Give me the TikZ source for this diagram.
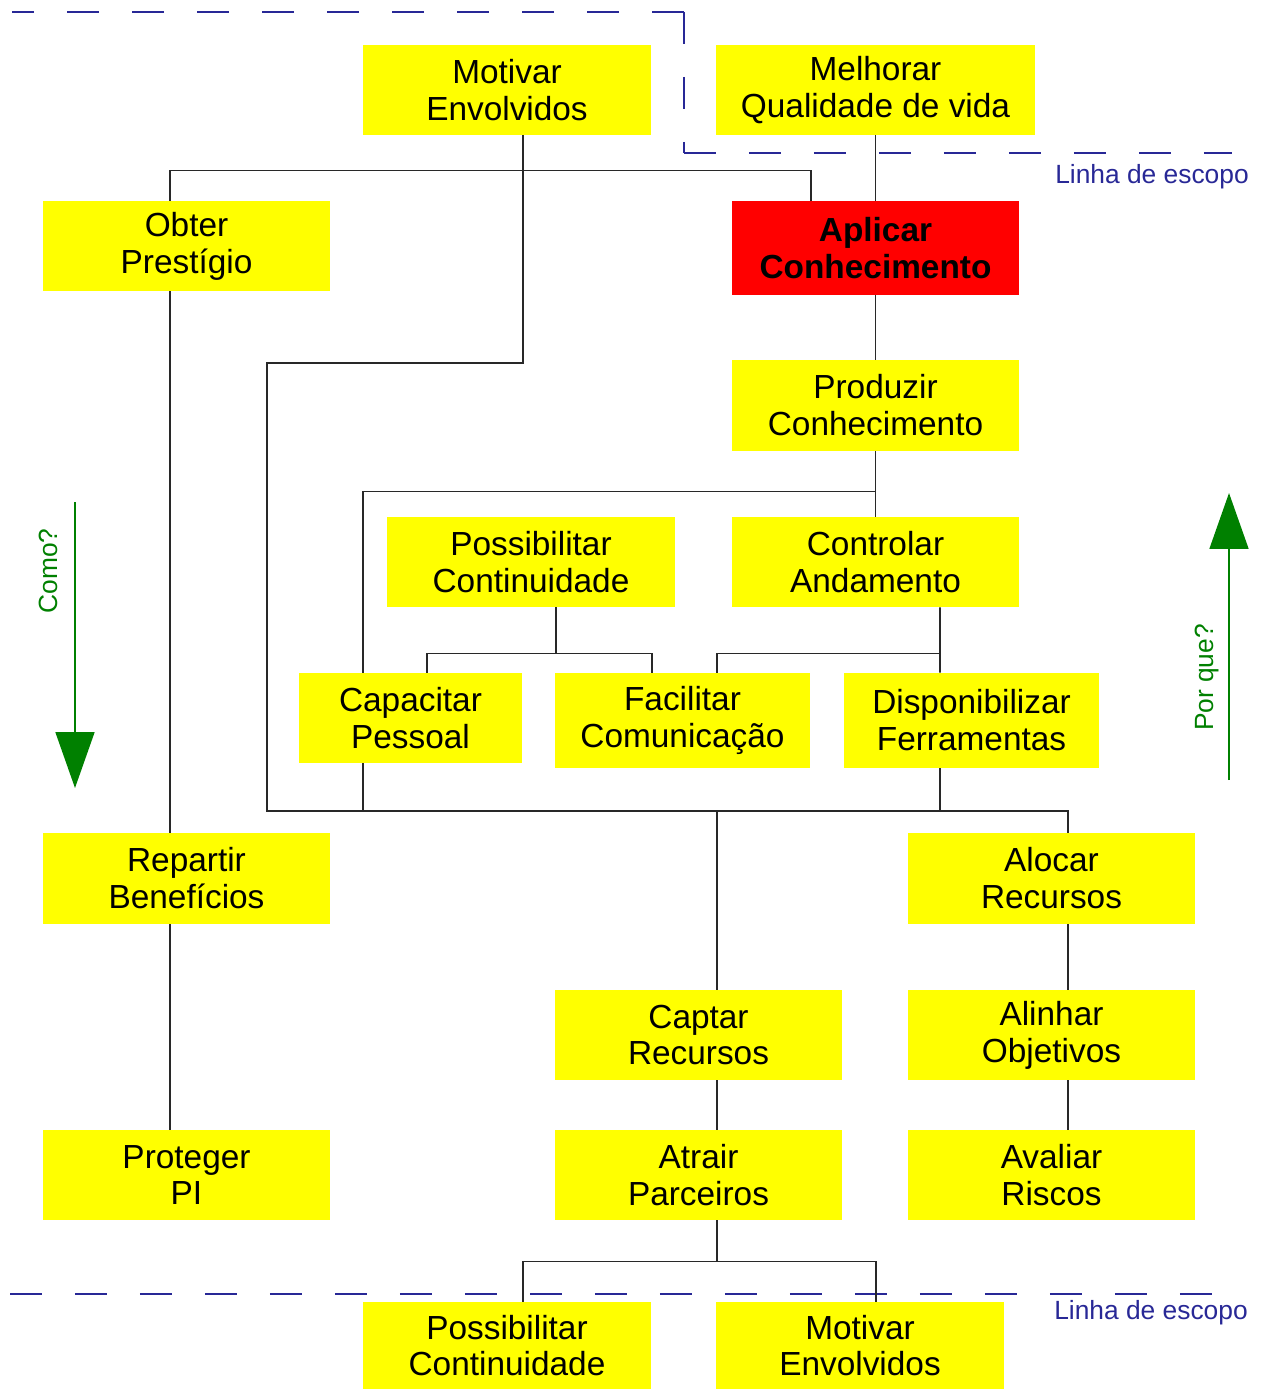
\documentclass[tikz,border=0pt]{standalone}
\usepackage{fontspec}
\setmainfont{Liberation Sans}
\usepackage{xcolor}
\usepackage{tikz}
\usetikzlibrary{arrows.meta}
\definecolor{clrFn}{RGB}{255,255,0}
\definecolor{clrKey}{RGB}{255,0,0}
\definecolor{clrScope}{RGB}{40,40,150}
\definecolor{clrGuide}{RGB}{0,128,0}
\definecolor{clrLink}{RGB}{40,40,40}
\tikzset{
  func/.style={rectangle,fill=clrFn,minimum width=5.74cm,minimum height=1.8cm,
    inner sep=0pt,align=center,font=\fontsize{19}{21}\selectfont},
  funcKey/.style={func,fill=clrKey,font=\fontsize{19}{21}\selectfont\bfseries},
  link/.style={draw=clrLink,line width=0.9pt},
  scopeline/.style={draw=clrScope,line width=1.1pt,dash pattern=on 0.64cm off 0.66cm},
  scopelabel/.style={font=\fontsize{15}{18}\selectfont,text=clrScope,inner sep=0pt},
  guide/.style={draw=clrGuide,line width=1pt,-{Triangle[length=1.12cm,width=0.78cm]},
    color=clrGuide},
  guidelabel/.style={font=\fontsize{15}{18}\selectfont,text=clrGuide,inner sep=0pt,rotate=90}
}
\begin{document}
\begin{tikzpicture}[x=0.02cm,y=-0.02cm]
  \useasboundingbox (0,0) rectangle (1267,1389);

  % scope lines
  \draw[scopeline] (684,12) -- (12,12);
  \draw[scopeline] (684,12) -- (684,153);
  \draw[scopeline] (684,153) -- (1232,153);
  \draw[scopeline] (10,1294) -- (1216,1294);
  \node[scopelabel] (escopoA) at (1152,177) {Linha de escopo};
  \node[scopelabel] (escopoB) at (1151,1313) {Linha de escopo};

  \node[func,minimum width=5.76cm] (motivarA) at (507,90) {Motivar\\Envolvidos};
  \node[func,minimum width=6.4cm] (melhorar) at (875.5,90) {Melhorar\\Qualidade de vida};
  \node[func] (obter) at (186.5,246) {Obter\\Prestígio};
  \node[funcKey,minimum height=1.88cm] (aplicar) at (875.5,248) {Aplicar\\Conhecimento};
  \node[func,minimum height=1.82cm] (produzir) at (875.5,405.5) {Produzir\\Conhecimento};
  \node[func,minimum width=5.76cm] (possibA) at (531,562) {Possibilitar\\Continuidade};
  \node[func] (controlar) at (875.5,562) {Controlar\\Andamento};
  \node[func,minimum width=4.46cm] (capacitar) at (410.5,718) {Capacitar\\Pessoal};
  \node[func,minimum width=5.1cm,minimum height=1.9cm] (facilitar) at (682.5,720.5)
    {Facilitar\\Comunicação};
  \node[func,minimum width=5.1cm,minimum height=1.9cm] (disponib) at (971.5,720.5)
    {Disponibilizar\\Ferramentas};
  \node[func,minimum height=1.82cm] (repartir) at (186.5,878.5) {Repartir\\Benefícios};
  \node[func,minimum height=1.82cm] (alocar) at (1051.5,878.5) {Alocar\\Recursos};
  \node[func] (captar) at (698.5,1035) {Captar\\Recursos};
  \node[func] (alinhar) at (1051.5,1035) {Alinhar\\Objetivos};
  \node[func] (proteger) at (186.5,1175) {Proteger\\PI};
  \node[func] (atrair) at (698.5,1175) {Atrair\\Parceiros};
  \node[func] (avaliar) at (1051.5,1175) {Avaliar\\Riscos};
  \node[func,minimum width=5.76cm,minimum height=1.74cm] (possibB) at (507,1345.5)
    {Possibilitar\\Continuidade};
  \node[func,minimum width=5.76cm,minimum height=1.74cm] (motivarB) at (860,1345.5)
    {Motivar\\Envolvidos};

  \coordinate (bendM) at (267,363);
  \coordinate (busL) at (267,811);
  \coordinate (pcJ) at ([xshift=0.5cm,yshift=-0.92cm]possibA.south);
  \coordinate (caJ) at ([xshift=1.29cm,yshift=-0.92cm]controlar.south);
  \coordinate (apJ) at ([xshift=0.37cm,yshift=-0.82cm]atrair.south);

  \draw[link] ([xshift=0.32cm]motivarA.south) |- (bendM) -- (busL)
    -| ([xshift=0.33cm]alocar.north);
  \draw[link] ([xshift=-0.33cm]obter.north)
    |- ([xshift=-1.29cm,yshift=0.6cm]aplicar.north) -- ([xshift=-1.29cm]aplicar.north);
  \draw[link] (melhorar) -- (aplicar);
  \draw[link] (aplicar) -- (produzir);
  \draw[link] (produzir) -- (controlar);
  \draw[link] ([yshift=-0.8cm]produzir.south) -| ([xshift=-0.95cm]capacitar.north);

  \draw[link] ([xshift=0.5cm]possibA.south) -- (pcJ);
  \draw[link] ([xshift=0.33cm]capacitar.north) |- (pcJ) -| ([xshift=-0.61cm]facilitar.north);
  \draw[link] ([xshift=1.29cm]controlar.south) -- ([xshift=-0.63cm]disponib.north);
  \draw[link] ([xshift=0.69cm]facilitar.north) |- (caJ);

  \draw[link] ([xshift=-0.95cm]capacitar.south) |- (busL);
  \draw[link] ([xshift=-0.63cm]disponib.south) |- (busL);
  \draw[link] ([xshift=0.37cm]captar.north) |- (busL);

  \draw[link] ([xshift=-0.33cm]obter.south) -- ([xshift=-0.33cm]repartir.north);
  \draw[link] ([xshift=-0.33cm]repartir.south) -- ([xshift=-0.33cm]proteger.north);
  \draw[link] ([xshift=0.33cm]alocar.south) -- ([xshift=0.33cm]alinhar.north);
  \draw[link] ([xshift=0.33cm]alinhar.south) -- ([xshift=0.33cm]avaliar.north);
  \draw[link] ([xshift=0.37cm]captar.south) -- ([xshift=0.37cm]atrair.north);
  \draw[link] ([xshift=0.37cm]atrair.south) -- (apJ);
  \draw[link] ([xshift=0.32cm]possibB.north) |- (apJ) -| ([xshift=0.32cm]motivarB.north);

  % how / why
  \coordinate (comoIni) at (75,502);
  \coordinate (comoFim) at (75,788);
  \coordinate (porqueIni) at (1229,780);
  \coordinate (porqueFim) at (1229,493);
  \draw[guide] (comoIni) -- (comoFim);
  \draw[guide] (porqueIni) -- (porqueFim);
  \node[guidelabel] (como) at (48.5,571) {Como?};
  \node[guidelabel] (porque) at (1207.5,677.5) {Por que?};
\end{tikzpicture}
\end{document}
